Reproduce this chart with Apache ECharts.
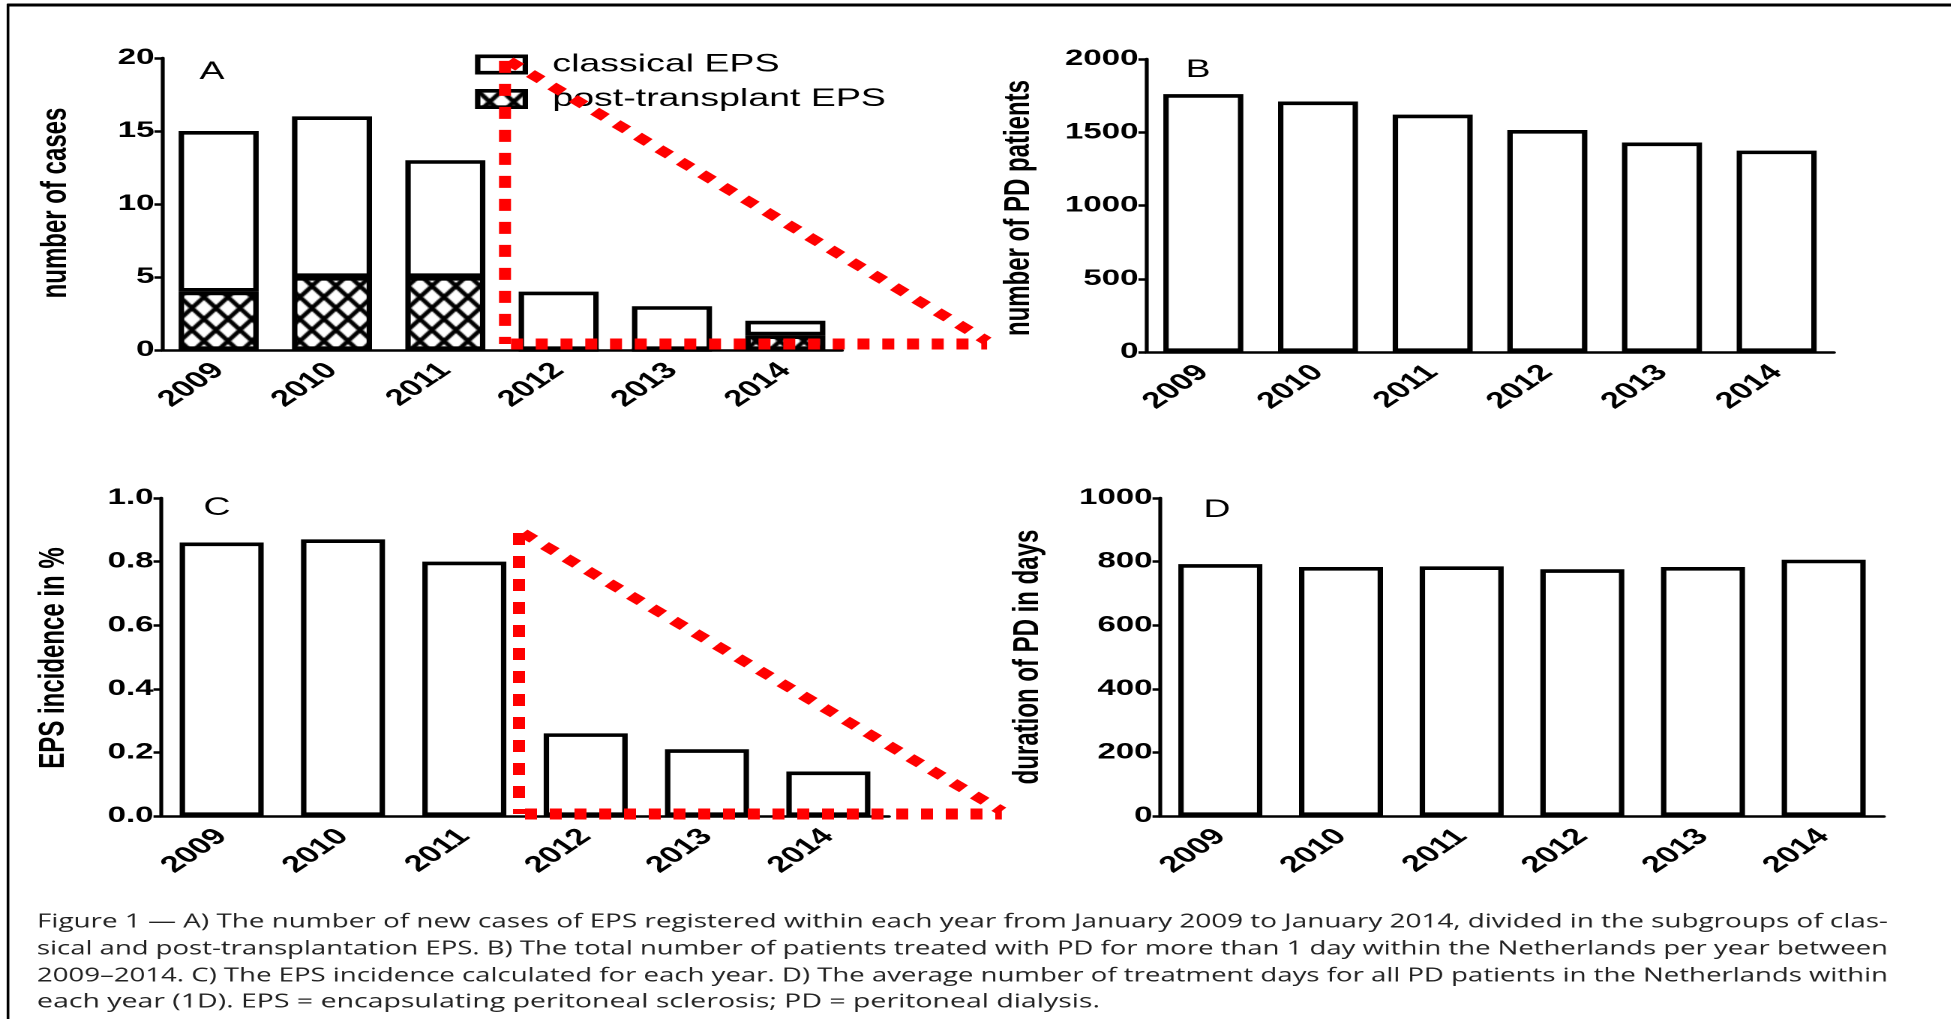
<!DOCTYPE html>
<html>
<head>
<meta charset="UTF-8">
<title>EPS in the Netherlands 2009-2014</title>
<style>
html, body { margin: 0; padding: 0; background: #fff; overflow: hidden; }
#main { transform-origin: 0 0; }
</style>
</head>
<body>
<div id="main"></div>
<script src="https://cdn.jsdelivr.net/npm/echarts@6/dist/echarts.min.js"></script>
<script>
// data
var years = ['2009', '2010', '2011', '2012', '2013', '2014'];
var classicalEps = [11, 11, 8, 4, 3, 1];
var postTransplantEps = [4, 5, 5, 0, 0, 1];
var pdPatients = [1760, 1710, 1620, 1515, 1430, 1375];
var epsIncidence = [0.86, 0.87, 0.80, 0.26, 0.21, 0.14];
var pdDays = [792, 783, 785, 776, 783, 806];

var captionLines = [
	'Figure 1 \u2014 A) The number of new cases of EPS registered within each year from January 2009 to January 2014, divided in the subgroups of clas-',
	'sical and post-transplantation EPS. B) The total number of patients treated with PD for more than 1 day within the Netherlands per year between',
	'2009\u20132014. C) The EPS incidence calculated for each year. D) The average number of treatment days for all PD patients in the Netherlands within',
	'each year (1D). EPS = encapsulating peritoneal sclerosis; PD = peritoneal dialysis.'
];

// the original figure is stretched sideways, so draw narrow and stretch the div
var K = 1.5;
var FONT = 'Liberation Sans, Arial, sans-serif';
var BW = 3.6;

var dom = document.getElementById('main');
dom.style.width = (1952 / K) + 'px';
dom.style.height = '1019px';
dom.style.transform = 'scaleX(' + K + ')';
var chart = echarts.init(dom, null, { devicePixelRatio: 2 });

function crossHatch() {
	var w = 16, h = 22;
	var c = document.createElement('canvas');
	c.width = w;
	c.height = h;
	var g = c.getContext('2d');
	g.fillStyle = '#fff';
	g.fillRect(0, 0, w, h);
	g.strokeStyle = '#000';
	g.lineWidth = 3.4;
	g.beginPath();
	g.moveTo(-w * 0.25, -h * 0.25); g.lineTo(w * 1.25, h * 1.25);
	g.moveTo(w * 1.25, -h * 0.25); g.lineTo(-w * 0.25, h * 1.25);
	g.stroke();
	return c;
}

function catAxis(i) {
	return {
		type: 'category', gridIndex: i, data: years,
		axisLine: { lineStyle: { color: '#000', width: 2.5 } },
		axisTick: { alignWithLabel: true, length: 8, lineStyle: { color: '#000', width: 2 } },
		axisLabel: { interval: 0, rotate: 45, margin: 17, color: '#000', fontWeight: 'bold', fontSize: 23, fontFamily: FONT }
	};
}

function valAxis(i, max, step, digits) {
	return {
		type: 'value', gridIndex: i, min: 0, max: max, interval: step,
		axisLine: { show: true, lineStyle: { color: '#000', width: 2.6 } },
		axisTick: { show: true, length: 5, lineStyle: { color: '#000', width: 2.5 } },
		splitLine: { show: false },
		axisLabel: {
			margin: 5, color: '#000', fontWeight: 'bold', fontSize: 22, fontFamily: FONT,
			formatter: function (v) { return v.toFixed(digits); }
		}
	};
}

function bars(name, i, data, width, color, stack) {
	return {
		name: name, type: 'bar', xAxisIndex: i, yAxisIndex: i, data: data,
		stack: stack, barWidth: width, animation: false,
		itemStyle: { color: color, borderColor: '#000', borderWidth: BW }
	};
}

var hatch = { image: crossHatch(), repeat: 'repeat' };
var narrow = 80 / K;
var wide = 84 / K;

var option = {
	backgroundColor: '#fff',
	animation: false,
	grid: [
		{ left: 162 / K, top: 58, width: 680 / K, height: 292 },
		{ left: 1146 / K, top: 59, width: 688 / K, height: 293 },
		{ left: 161 / K, top: 498, width: 728 / K, height: 318 },
		{ left: 1160 / K, top: 498, width: 724 / K, height: 318 }
	],
	legend: {
		data: ['classical EPS', 'post-transplant EPS'],
		orient: 'vertical', left: 475 / K, top: 52, padding: 0,
		itemWidth: 53 / K - BW, itemHeight: 20 - BW, itemGap: 9.5,
		selectedMode: false, icon: 'rect',
		itemStyle: { borderColor: '#000', borderWidth: BW },
		textStyle: { fontSize: 25, color: '#000', fontFamily: FONT, padding: [0, 0, 0, 13] }
	},
	xAxis: [catAxis(0), catAxis(1), catAxis(2), catAxis(3)],
	yAxis: [valAxis(0, 20, 5, 0), valAxis(1, 2000, 500, 0), valAxis(2, 1, 0.2, 1), valAxis(3, 1000, 200, 0)],
	series: [
		bars('post-transplant EPS', 0, postTransplantEps, narrow, hatch, 'a'),
		bars('classical EPS', 0, classicalEps, narrow, '#fff', 'a'),
		bars('PD patients', 1, pdPatients, narrow, '#fff'),
		bars('EPS incidence', 2, epsIncidence, wide, '#fff'),
		bars('PD duration', 3, pdDays, wide, '#fff')
	]
};
chart.setOption(option);

// annotations: titles, panel letters, red dotted triangles, frame, caption
function pt(g, i, v) {
	return chart.convertToPixel({ gridIndex: g }, [years[i], v]);
}

function label(x, y, text, font, rot) {
	return {
		type: 'text', x: x / K, y: y, rotation: rot || 0, z: 50,
		style: { text: text, font: font, fill: '#000', align: 'center', verticalAlign: 'middle' }
	};
}

function dotted(p1, p2, w, dash) {
	return {
		type: 'line', z: 100,
		shape: { x1: p1[0], y1: p1[1], x2: p2[0], y2: p2[1] },
		style: { stroke: '#ff0000', lineWidth: w, lineDash: dash, lineCap: 'butt' }
	};
}

function triangle(g, topVal, reach, dx, lift) {
	var band = pt(g, 1, 0)[0] - pt(g, 0, 0)[0];
	var xl = (pt(g, 2, 0)[0] + pt(g, 3, 0)[0]) / 2 + dx / K;
	var xr = pt(g, 5, 0)[0] + reach * band;
	var yt = pt(g, 0, topVal)[1];
	var yb = pt(g, 0, 0)[1] - lift;
	return [
		dotted([xl, yt], [xl, yb], 8, [12, 11]),
		dotted([xl + 6 / K, yb], [xr, yb], 11, [8, 8.5]),
		dotted([xl + 4 / K, yt], [xr, yb - 3], 9, [9.5, 9.5])
	];
}

var graphics = [];
var axisTitle = 'bold 24px ' + FONT;
var letter = '25px ' + FONT;
graphics.push(label(56, 203, 'number of cases', axisTitle, Math.PI / 2));
graphics.push(label(1019, 208, 'number of PD patients', axisTitle, Math.PI / 2));
graphics.push(label(54, 658, 'EPS incidence in %', axisTitle, Math.PI / 2));
graphics.push(label(1028, 657, 'duration of PD in days', axisTitle, Math.PI / 2));
graphics.push(label(212, 72, 'A', letter));
graphics.push(label(1198, 70, 'B', letter));
graphics.push(label(217, 508, 'C', letter));
graphics.push(label(1217, 510, 'D', letter));
graphics = graphics.concat(triangle(0, 19.8, 1.78, 3, 6));
graphics = graphics.concat(triangle(2, 0.89, 1.43, -6, 2));

// frame of the figure
graphics.push({ type: 'line', shape: { x1: 7 / K, y1: 5, x2: 1952 / K, y2: 5 }, style: { stroke: '#000', lineWidth: 3 } });
graphics.push({ type: 'line', shape: { x1: 8 / K, y1: 4, x2: 8 / K, y2: 1019 }, style: { stroke: '#000', lineWidth: 1.8 } });

// caption, each line fitted to the width it has in the figure
var capFont = '19px "Open Sans", "Noto Sans", sans-serif';
var ctx = document.createElement('canvas').getContext('2d');
ctx.font = capFont;
var capWidth = [1851, 1851, 1851, 1063];
var capY = [922, 949, 976, 1002];
for (var j = 0; j < captionLines.length; j++) {
	var s = (capWidth[j] / K) / ctx.measureText(captionLines[j]).width;
	graphics.push({
		type: 'text', x: 37 / K, y: capY[j], scaleX: s,
		style: { text: captionLines[j], font: capFont, fill: '#222', align: 'left', verticalAlign: 'middle' }
	});
}

chart.setOption({ graphic: graphics });
</script>
</body>
</html>
